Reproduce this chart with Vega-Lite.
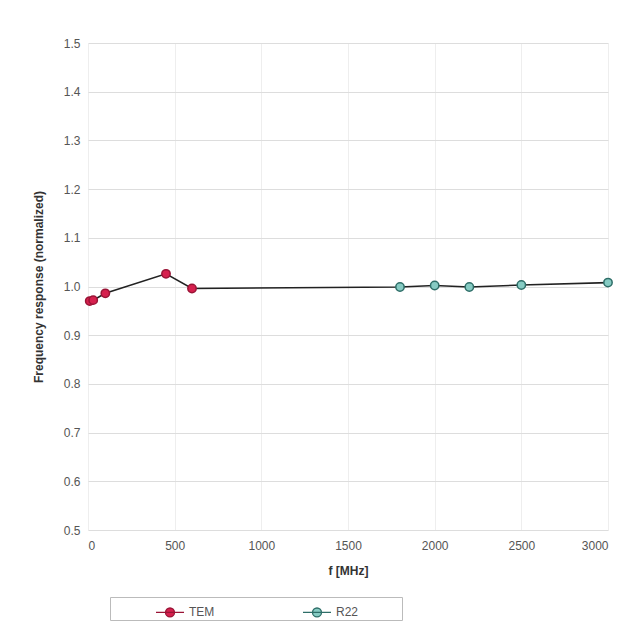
{
  "$schema": "https://vega.github.io/schema/vega-lite/v6.json",
  "autosize": "none",
  "padding": {"left": 88, "top": 43, "right": 34, "bottom": 110},
  "width": 520,
  "height": 487,
  "background": "white",
  "config": {
    "font": "Liberation Sans",
    "view": {"stroke": null},
    "axis": {
      "labelFont": "Liberation Sans",
      "labelFontSize": 12,
      "labelColor": "#555555",
      "titleFont": "Liberation Sans",
      "titleFontSize": 12,
      "titleFontWeight": "bold",
      "titleColor": "#333333",
      "domain": false,
      "ticks": false,
      "gridColor": "#dddddd",
      "gridWidth": 1
    }
  },
  "data": {
    "values": [
      {"f": 10, "r": 0.970, "series": "TEM"},
      {"f": 30, "r": 0.972, "series": "TEM"},
      {"f": 100, "r": 0.986, "series": "TEM"},
      {"f": 450, "r": 1.026, "series": "TEM"},
      {"f": 600, "r": 0.996, "series": "TEM"},
      {"f": 1800, "r": 0.999, "series": "R22"},
      {"f": 2000, "r": 1.002, "series": "R22"},
      {"f": 2200, "r": 0.999, "series": "R22"},
      {"f": 2500, "r": 1.003, "series": "R22"},
      {"f": 3000, "r": 1.008, "series": "R22"}
    ]
  },
  "encoding": {
    "x": {
      "field": "f",
      "type": "quantitative",
      "scale": {"domain": [0, 3000], "nice": false, "zero": false},
      "axis": {
        "values": [0, 500, 1000, 1500, 2000, 2500, 3000],
        "format": "d",
        "title": "f [MHz]",
        "labelPadding": 10,
        "titlePadding": 14,
        "gridColor": "#eeeeee"
      }
    },
    "y": {
      "field": "r",
      "type": "quantitative",
      "scale": {"domain": [0.5, 1.5], "nice": false, "zero": false},
      "axis": {
        "values": [0.5, 0.6, 0.7, 0.8, 0.9, 1.0, 1.1, 1.2, 1.3, 1.4, 1.5],
        "format": ".1f",
        "title": "Frequency response (normalized)",
        "labelPadding": 8,
        "titlePadding": 18
      }
    }
  },
  "layer": [
    {
      "mark": {"type": "line", "color": "#222222", "strokeWidth": 1.6}
    },
    {
      "mark": {"type": "point", "filled": true, "size": 70, "opacity": 1, "strokeWidth": 1.5},
      "encoding": {
        "fill": {
          "field": "series",
          "type": "nominal",
          "sort": ["TEM", "R22"],
          "scale": {"domain": ["TEM", "R22"], "range": ["#d6204e", "#86cbc3"]},
          "legend": {
            "title": "x",
            "titleOrient": "right",
            "titlePadding": 38,
            "titleOpacity": 0,
            "titleFontSize": 10,
            "orient": "none",
            "legendX": 22,
            "legendY": 554,
            "direction": "horizontal",
            "columns": 2,
            "columnPadding": 42,
            "padding": 0,
            "strokeColor": "#bbbbbb",
            "symbolOffset": 45,
            "symbolType": "M-1,0L1,0M0.32,0A0.32,0.32,0,1,1,-0.32,0A0.32,0.32,0,1,1,0.32,0",
            "symbolSize": 784,
            "symbolStrokeColor": "#444444",
            "symbolStrokeWidth": 1.3,
            "symbolOpacity": 1,
            "labelFont": "Liberation Sans",
            "labelFontSize": 12,
            "labelColor": "#555555",
            "labelOffset": 4
          }
        },
        "stroke": {
          "field": "series",
          "type": "nominal",
          "scale": {"domain": ["TEM", "R22"], "range": ["#9a1436", "#2e6e68"]},
          "legend": null
        }
      }
    }
  ]
}
